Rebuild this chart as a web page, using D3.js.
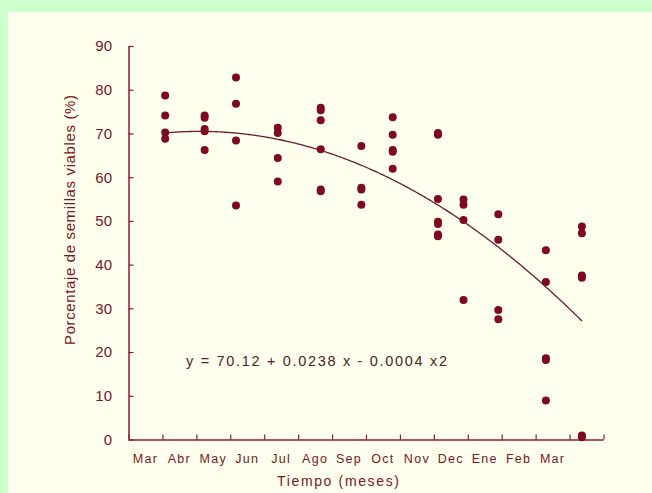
<!DOCTYPE html>
<html>
<head>
<meta charset="utf-8">
<script src="https://cdn.jsdelivr.net/npm/d3@7"></script>
<style>
    html, body { margin: 0; padding: 0; background: #ffffee; overflow: hidden; }
    svg { display: block; font-family: "Liberation Sans", Arial, sans-serif; }
</style>
</head>
<body>
<div id="chart"></div>
<script>
// meses del eje x (la ultima division no lleva etiqueta)
const monthLabels = ['Mar', 'Abr', 'May', 'Jun', 'Jul', 'Ago', 'Sep', 'Oct', 'Nov', 'Dec', 'Ene', 'Feb', 'Mar'];
// dias desde el primer muestreo
const sampleDays = [0, 34, 61, 97, 134, 169, 196, 235, 257, 287, 328, 359];
// porcentaje de semillas viables en cada muestreo
const viability = [
    [78.7, 74.1, 70.2, 68.8],
    [74.1, 73.6, 71.0, 70.5, 66.2],
    [82.8, 76.8, 68.4, 53.5],
    [71.3, 70.1, 64.4, 59.0],
    [75.9, 75.3, 73.0, 66.4, 57.2, 56.8],
    [67.1, 57.6, 57.2, 53.7],
    [73.7, 69.7, 66.2, 65.8, 61.9],
    [70.1, 69.7, 55.0, 49.8, 49.3, 46.9, 46.5],
    [54.9, 53.7, 50.2, 31.9],
    [51.5, 45.7, 29.6, 27.5],
    [43.3, 36.0, 18.6, 18.2, 8.9],
    [48.7, 47.2, 37.5, 37.0, 0.9, 0.5]
];
const yTicks = [0, 10, 20, 30, 40, 50, 60, 70, 80, 90];
// ajuste cuadratico
const coef = [70.12, 0.0238, -0.0004];

const width = 652, height = 493;
const axisColor = '#8c1c2c';
const dotColor = '#7d0a1e';
const textColor = '#7a1522';

// divisiones del eje x, cada una un mes
const firstTick = -31.6, monthLen = 29.23;
const monthTicks = d3.range(monthLabels.length + 2).map(k => firstTick + k * monthLen);

const svg = d3.select('#chart')
    .append('svg')
    .attr('width', width)
    .attr('height', height);

svg.append('rect')
    .attr('width', width).attr('height', height)
    .attr('fill', '#ffffee');
svg.append('rect')
    .attr('width', width).attr('height', 12)
    .attr('fill', '#ccffcc');
svg.append('rect')
    .attr('width', 8).attr('height', height)
    .attr('fill', '#ccffcc');

const x = d3.scaleLinear()
    .domain([monthTicks[0], monthTicks[monthTicks.length - 1]])
    .range([128.5, 603.5]);
const y = d3.scaleLinear()
    .domain([0, 90])
    .range([439.5, 46]);

// eje y
const yAxis = svg.append('g')
    .attr('transform', `translate(${x.range()[0]},0)`)
    .call(d3.axisRight(y).tickValues(yTicks).tickSize(5).tickFormat(''));
yAxis.select('.domain').attr('stroke', axisColor).attr('stroke-width', 1.5).attr('d', `M0.5,${y(90)}V${y(0)}`);
yAxis.selectAll('.tick line').attr('stroke', axisColor).attr('stroke-width', 1.2);

svg.append('g')
    .selectAll('text')
    .data(yTicks)
    .join('text')
    .attr('x', 112)
    .attr('y', d => y(d))
    .attr('dy', '0.36em')
    .attr('text-anchor', 'end')
    .attr('font-size', 15)
    .attr('fill', textColor)
    .text(d => d);

// eje x
const xAxis = svg.append('g')
    .attr('transform', `translate(0,${y(0)})`)
    .call(d3.axisTop(x).tickValues(monthTicks).tickSize(5).tickFormat(''));
xAxis.select('.domain').attr('stroke', axisColor).attr('stroke-width', 1.5)
    .attr('d', `M${x.range()[0]},0.5H${x.range()[1]}`);
xAxis.selectAll('.tick line').attr('stroke', axisColor).attr('stroke-width', 1.2);

svg.append('g')
    .selectAll('text')
    .data(monthLabels)
    .join('text')
    .attr('x', (d, i) => x(monthTicks[i] + monthLen / 2))
    .attr('y', 463)
    .attr('text-anchor', 'middle')
    .attr('font-size', 12.5)
    .attr('letter-spacing', 1.3)
    .attr('fill', textColor)
    .text(d => d);

svg.append('text')
    .attr('x', 338)
    .attr('y', 486)
    .attr('text-anchor', 'middle')
    .attr('font-size', 14)
    .attr('fill', textColor)
    .attr('textLength', 122)
    .attr('lengthAdjust', 'spacing')
    .text('Tiempo (meses)');

svg.append('text')
    .attr('transform', `translate(75,220) rotate(-90)`)
    .attr('text-anchor', 'middle')
    .attr('font-size', 15)
    .attr('fill', textColor)
    .attr('textLength', 250)
    .attr('lengthAdjust', 'spacing')
    .text('Porcentaje de semillas viables (%)');

// curva ajustada
const fit = d => coef[0] + coef[1] * d + coef[2] * d * d;
const curveDays = d3.range(sampleDays[0], sampleDays[sampleDays.length - 1] + 1, 1);
svg.append('path')
    .datum(curveDays)
    .attr('fill', 'none')
    .attr('stroke', '#6a1838')
    .attr('stroke-width', 1.3)
    .attr('d', d3.line().x(d => x(d)).y(d => y(fit(d))));

// puntos
const points = sampleDays.flatMap((d, i) => viability[i].map(v => ({ day: d, value: v })));
svg.append('g')
    .selectAll('circle')
    .data(points)
    .join('circle')
    .attr('cx', d => x(d.day))
    .attr('cy', d => y(d.value))
    .attr('r', 4)
    .attr('fill', dotColor);

svg.append('text')
    .attr('x', 186)
    .attr('y', 366)
    .attr('font-size', 14.5)
    .attr('fill', '#4e2424')
    .attr('textLength', 261)
    .attr('lengthAdjust', 'spacing')
    .text('y = 70.12 + 0.0238 x - 0.0004 x2');
</script>
</body>
</html>
